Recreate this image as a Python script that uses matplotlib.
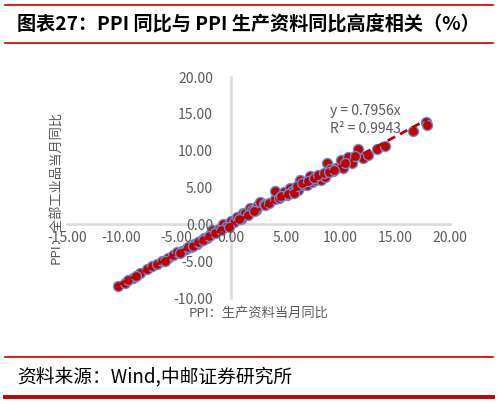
import numpy as np
import matplotlib
matplotlib.use("Agg")
import matplotlib.pyplot as plt
from matplotlib.lines import Line2D

plt.rcParams['font.family'] = ['Noto Sans CJK SC', 'DejaVu Sans']

# PPI production materials YoY (x) vs PPI all industrial products YoY (y)
ppi_prod = [-10.3, -9.7, -9.0, -8.3, -7.7, -7.2, -6.8, -6.3, -5.8, -5.3, -4.9, -4.5,
            -4.1, -3.7, -3.4, -3.1, -2.8, -2.5, -2.2, -1.9, -1.7, -1.4, -1.1, -0.7,
            -0.4, 0.0, 0.3, 0.5, 0.9, 1.1, 1.3, 1.7, 1.9, 2.3, 2.5, 2.6, 3.0, 3.1,
            3.5, 4.0, 4.0, 4.4, 4.8, 5.1, 5.4, 5.6, 5.9, 6.1, 6.3, 6.6, 6.9, 7.2,
            7.4, 7.7, 8.0, 8.2, 8.4, 8.6, 8.8, 9.0, 9.3, 9.6, 10.0, 10.2, 10.7,
            11.0, 11.6, 12.0, 12.5, 13.3, 14.1, 16.6, 17.8, 17.9,
            -9.4, -8.7, -6.0, -4.7, -3.9, -3.5, -3.0, -2.6, -2.0, -1.5, -0.9,
            -0.2, 0.7, 1.5, 2.1, 4.6, 5.2, 5.7, 6.0, 6.5, 7.0, 7.6, 7.9, 8.5,
            8.9, 9.4, 10.4, 11.3]
ppi_all = [-8.4, -7.9, -7.2, -6.6, -6.0, -5.7, -5.3, -5.0, -4.6, -4.2, -3.8, -3.6,
           -3.3, -3.1, -2.6, -2.6, -2.2, -1.8, -1.8, -1.4, -0.8, -1.0, -0.6, 0.1,
           -0.2, 0.5, 0.4, 1.0, 0.8, 1.6, 1.5, 2.2, 2.0, 1.9, 2.7, 3.0, 2.8, 2.7,
           2.9, 3.4, 4.6, 3.6, 4.4, 4.0, 4.9, 4.5, 5.0, 4.7, 6.1, 5.4, 5.3, 6.6,
           5.8, 6.0, 6.4, 6.0, 6.9, 6.5, 8.3, 7.5, 7.2, 7.7, 8.8, 7.7, 9.1,
           8.4, 10.2, 9.0, 9.5, 10.3, 10.7, 12.7, 13.9, 13.5,
           -7.6, -7.0, -4.9, -3.9, -3.0, -2.9, -2.4, -2.1, -1.5, -1.2, -0.7,
           -0.3, 0.7, 1.3, 1.8, 3.9, 4.2, 4.3, 5.2, 5.6, 5.9, 6.3, 6.7, 7.0,
           7.1, 7.4, 8.3, 9.3]
slope = 0.7956
r2 = 0.9943

x_ticks = [-15, -10, -5, 0, 5, 10, 15, 20]
y_ticks = [-10, -5, 0, 5, 10, 15, 20]

gray = '#595959'
red = '#C00000'

fig = plt.figure(figsize=(4.99, 4.04), dpi=100)
ax = fig.add_axes([0.134, 0.262, 0.768, 0.547])

ax.scatter(ppi_prod, ppi_all, s=52, color=red, edgecolors='#6A8CD0',
           linewidths=1.0, zorder=2)
xx = np.array([min(ppi_prod), max(ppi_prod)])
ax.plot(xx, slope * xx, '--', color=red, lw=2, dashes=(3, 2), zorder=2.2)

ax.set_xlim(-15, 20)
ax.set_ylim(-10, 20)
ax.set_xticks(x_ticks)
ax.set_yticks(y_ticks)
ax.set_xticklabels([f'{v:.2f}' for v in x_ticks])
ax.set_yticklabels([f'{v:.2f}' for v in y_ticks])
ax.set_axisbelow(False)

for s in ['top', 'right']:
    ax.spines[s].set_visible(False)
ax.spines['left'].set_position(('data', 0))
ax.spines['bottom'].set_position(('data', 0))
for s in ['left', 'bottom']:
    ax.spines[s].set_color('#D9D9D9')
    ax.spines[s].set_linewidth(1.8)
    ax.spines[s].set_zorder(1)
ax.tick_params(axis='x', length=0, pad=5, labelsize=10, labelcolor=gray)
ax.tick_params(axis='y', length=0, pad=13, labelsize=10, labelcolor=gray)
ax.patch.set_alpha(0)

ax.set_xlabel('PPI：生产资料当月同比', fontsize=9.5, color=gray)
ax.xaxis.set_label_coords(0.5, -0.038)
ax.set_ylabel('PPI：全部工业品当月同比', fontsize=9.5, color=gray)
ax.yaxis.set_label_coords(-0.012, 0.5)

ax.text(0.687, 0.806, f'y = {slope}x\nR² = {r2}', transform=ax.transAxes,
        fontsize=10, color=gray, va='center', ha='left', linespacing=1.3)

# header / footer
fig.add_artist(Line2D([0.01, 0.988], [1 - 5 / 404, 1 - 5 / 404], color=red, lw=1.2))
fig.add_artist(Line2D([0.01, 0.988], [1 - 43 / 404, 1 - 43 / 404], color=red, lw=1.2))
fig.text(0.034, 1 - 25 / 404, '图表27：PPI 同比与 PPI 生产资料同比高度相关（%）',
         fontsize=13.8, fontweight='bold', va='center', ha='left')

fig.add_artist(Line2D([0.01, 0.988], [1 - 357 / 404, 1 - 357 / 404], color=red, lw=1.2))
fig.add_artist(Line2D([0.01, 0.988], [1 - 397 / 404, 1 - 397 / 404], color=red, lw=2.8))
fig.text(0.034, 1 - 377 / 404, '资料来源：Wind,中邮证券研究所',
         fontsize=13.5, va='center', ha='left')

fig.savefig('out.png', dpi=100)
